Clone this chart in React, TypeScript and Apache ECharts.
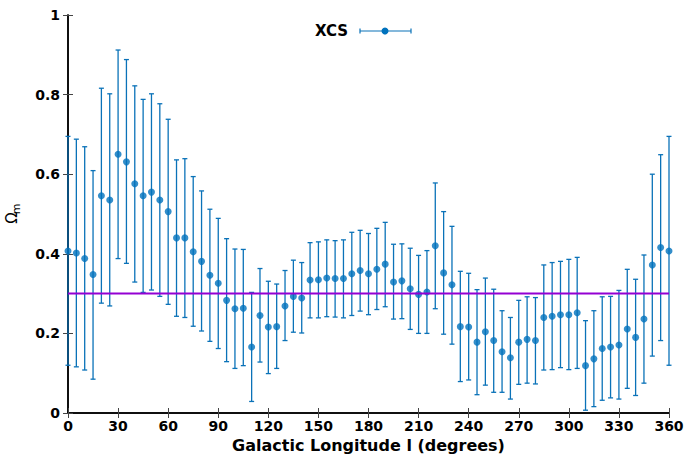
import React, { useEffect, useRef } from "react";
import * as echarts from "echarts";

const longitude = [
  0, 5, 10, 15, 20, 25, 30, 35, 40, 45, 50, 55, 60, 65, 70, 75, 80, 85, 90, 95,
  100, 105, 110, 115, 120, 125, 130, 135, 140, 145, 150, 155, 160, 165, 170, 175,
  180, 185, 190, 195, 200, 205, 210, 215, 220, 225, 230, 235, 240, 245, 250, 255,
  260, 265, 270, 275, 280, 285, 290, 295, 300, 305, 310, 315, 320, 325, 330, 335,
  340, 345, 350, 355, 360,
];

const omegaM = [
  0.407, 0.402, 0.388, 0.348, 0.546, 0.535, 0.65, 0.631, 0.576, 0.546, 0.555, 0.535,
  0.506, 0.44, 0.44, 0.405, 0.381, 0.346, 0.326, 0.283, 0.262, 0.263, 0.166, 0.245,
  0.216, 0.217, 0.269, 0.293, 0.289, 0.334, 0.335, 0.339, 0.338, 0.338, 0.35, 0.358,
  0.35, 0.361, 0.374, 0.329, 0.332, 0.312, 0.298, 0.304, 0.42, 0.352, 0.322, 0.217,
  0.216, 0.178, 0.204, 0.182, 0.154, 0.139, 0.178, 0.185, 0.182, 0.24, 0.243, 0.247,
  0.247, 0.252, 0.119, 0.136, 0.162, 0.166, 0.171, 0.211, 0.19, 0.236, 0.372, 0.416,
  0.407,
];

const upperBound = [
  0.695, 0.688, 0.669, 0.609, 0.816, 0.802, 0.912, 0.888, 0.822, 0.788, 0.802, 0.777,
  0.738, 0.636, 0.639, 0.594, 0.558, 0.512, 0.489, 0.438, 0.412, 0.411, 0.303, 0.363,
  0.331, 0.324, 0.358, 0.384, 0.378, 0.428, 0.43, 0.435, 0.433, 0.435, 0.454, 0.459,
  0.451, 0.464, 0.479, 0.424, 0.425, 0.414, 0.396, 0.408, 0.578, 0.506, 0.469, 0.356,
  0.351, 0.31, 0.339, 0.311, 0.257, 0.24, 0.283, 0.292, 0.29, 0.372, 0.378, 0.381,
  0.386, 0.391, 0.232, 0.257, 0.292, 0.293, 0.308, 0.361, 0.336, 0.397, 0.6, 0.649,
  0.695,
];

const lowerBound = [
  0.12, 0.116, 0.108, 0.085, 0.276, 0.269, 0.388, 0.376, 0.329, 0.303, 0.309, 0.293,
  0.273, 0.243, 0.24, 0.218, 0.206, 0.18, 0.162, 0.129, 0.112, 0.119, 0.029, 0.128,
  0.099, 0.112, 0.182, 0.203, 0.201, 0.239, 0.239, 0.242, 0.241, 0.239, 0.245, 0.256,
  0.247, 0.26, 0.267, 0.236, 0.237, 0.21, 0.2, 0.2, 0.262, 0.198, 0.173, 0.079,
  0.083, 0.046, 0.07, 0.052, 0.052, 0.035, 0.072, 0.075, 0.073, 0.108, 0.109, 0.114,
  0.109, 0.112, 0.007, 0.016, 0.032, 0.038, 0.035, 0.062, 0.044, 0.075, 0.143, 0.182,
  0.12,
];

const referenceLine = [
  [0, 0.3],
  [360, 0.3],
];

const BLUE = "#0a72b8";
const PURPLE = "#9400d3";
const FONT = "DejaVu Sans";

export default function App() {
  const ref = useRef<HTMLDivElement>(null);

  useEffect(() => {
    if (!ref.current) return;
    const chart = echarts.init(ref.current, null, { renderer: "svg" });

    const axisLine = { show: true, lineStyle: { color: "#000", width: 1.5 } };
    const axisTick = { show: true, inside: true, length: 5, lineStyle: { color: "#444", width: 1 } };
    const labelStyle = { color: "#000", fontFamily: FONT, fontWeight: "bold" as const, fontSize: 14 };

    const errData = longitude.map((x, i) => [x, lowerBound[i], upperBound[i]]);
    const ptData = longitude.map((x, i) => [x, omegaM[i]]);

    chart.setOption({
      animation: false,
      grid: { left: 68, right: 19, top: 15, bottom: 43, containLabel: false, outerBoundsMode: "none" },
      xAxis: [
        {
          type: "value",
          min: 0,
          max: 360,
          interval: 30,
          position: "bottom",
          axisLine,
          axisTick,
          splitLine: { show: false },
          axisLabel: { ...labelStyle, margin: 6 },
          name: "Galactic Longitude l (degrees)",
          nameLocation: "middle",
          nameGap: 22,
          nameTextStyle: { color: "#000", fontFamily: FONT, fontWeight: "bold", fontSize: 16 },
        },
        {
          type: "value",
          min: 0,
          max: 360,
          interval: 30,
          position: "top",
          axisLine,
          axisTick,
          splitLine: { show: false },
          axisLabel: { show: false },
        },
      ],
      yAxis: [
        {
          type: "value",
          min: 0,
          max: 1,
          interval: 0.2,
          position: "left",
          axisLine,
          axisTick,
          splitLine: { show: false },
          axisLabel: { ...labelStyle, margin: 8 },
        },
        {
          type: "value",
          min: 0,
          max: 1,
          interval: 0.2,
          position: "right",
          axisLine,
          axisTick,
          splitLine: { show: false },
          axisLabel: { show: false },
        },
      ],
      series: [
        {
          type: "custom",
          xAxisIndex: 0,
          yAxisIndex: 0,
          data: errData,
          encode: { x: 0, y: [1, 2] },
          z: 2,
          renderItem: (params: any, api: any) => {
            const x = api.value(0);
            const lo = api.coord([x, api.value(1)]);
            const hi = api.coord([x, api.value(2)]);
            const hw = 2.5;
            const style = { stroke: BLUE, lineWidth: 1.3, fill: "none" };
            return {
              type: "group",
              children: [
                { type: "line", shape: { x1: lo[0], y1: lo[1], x2: hi[0], y2: hi[1] }, style },
                { type: "line", shape: { x1: lo[0] - hw, y1: lo[1], x2: lo[0] + hw, y2: lo[1] }, style },
                { type: "line", shape: { x1: hi[0] - hw, y1: hi[1], x2: hi[0] + hw, y2: hi[1] }, style },
              ],
            };
          },
        },
        {
          type: "scatter",
          data: ptData,
          symbol: "circle",
          symbolSize: 7,
          itemStyle: { color: "#0072bd" },
          z: 3,
        },
        {
          type: "line",
          data: referenceLine,
          symbol: "none",
          lineStyle: { color: PURPLE, width: 2 },
          z: 4,
        },
      ],
      graphic: [
        {
          type: "text",
          x: 348,
          y: 31,
          style: {
            text: "XCS",
            fill: "#000",
            font: `bold 15px "${FONT}"`,
            textAlign: "right",
            textVerticalAlign: "middle",
          },
        },
        { type: "line", shape: { x1: 360, y1: 31, x2: 411, y2: 31 }, style: { stroke: BLUE, lineWidth: 1.2 } },
        { type: "line", shape: { x1: 360, y1: 28.5, x2: 360, y2: 33.5 }, style: { stroke: BLUE, lineWidth: 1.2 } },
        { type: "line", shape: { x1: 411, y1: 28.5, x2: 411, y2: 33.5 }, style: { stroke: BLUE, lineWidth: 1.2 } },
        { type: "circle", shape: { cx: 385, cy: 31, r: 3.5 }, style: { fill: "#0072bd" } },
        {
          type: "group",
          x: 12,
          y: 218,
          rotation: Math.PI / 2,
          children: [
            {
              type: "text",
              x: 0,
              y: 0,
              style: {
                text: "Ω",
                fill: "#000",
                font: `15px "${FONT}"`,
                textAlign: "center",
                textVerticalAlign: "middle",
              },
            },
            {
              type: "text",
              x: 9,
              y: 4,
              style: {
                text: "m",
                fill: "#000",
                font: `11px "${FONT}"`,
                textAlign: "center",
                textVerticalAlign: "middle",
              },
            },
          ],
        },
      ],
    });

    return () => chart.dispose();
  }, []);

  return <div ref={ref} style={{ width: 688, height: 456, position: "absolute", left: 0, top: 0 }} />;
}
